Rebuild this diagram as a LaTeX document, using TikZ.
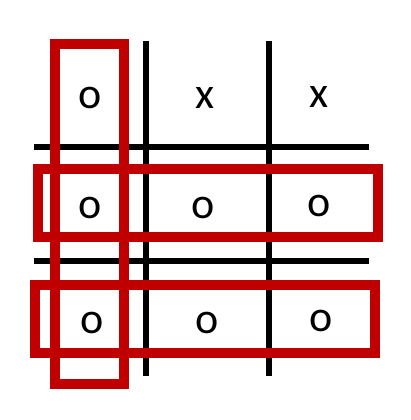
\documentclass[tikz,border=0pt]{standalone}
\usepackage{fontspec}
\setmainfont{Carlito}
\definecolor{boxred}{HTML}{C00000}
\tikzset{
	sym/.style={font=\fontsize{44}{44}\selectfont, anchor=base, inner sep=0pt},
	gridline/.style={line width=5.5pt},
	winbox/.style={line width=10pt, draw=boxred}
}

\begin{document}
\begin{tikzpicture}[x=1pt,y=-1pt]
		%%%%% START %%%%%
		\useasboundingbox (0,0) rectangle (411,420);
		
		\draw[gridline] (146,41) -- (146,376);
		\draw[gridline] (269,41) -- (269,376);
		\draw[gridline] (34,147) -- (369,147);
		\draw[gridline] (34,261) -- (369,261);
		
		\node[sym] (a1) at (90,108) {o};
		\node[sym] (a2) at (205,108) {x};
		\node[sym] (a3) at (319,107) {x};
		
		\node[sym] (b1) at (90,218) {o};
		\node[sym] (b2) at (203,218) {o};
		\node[sym] (b3) at (319,216) {o};
		
		\node[sym] (c1) at (92,333) {o};
		\node[sym] (c2) at (207,333) {o};
		\node[sym] (c3) at (321,331) {o};
		
		\draw[winbox] (55,44) rectangle (124,384);
		\draw[winbox] (38,169) rectangle (378,237);
		\draw[winbox] (35,285) rectangle (375,353);
		%%%%% END %%%%%
	\end{tikzpicture}
\end{document}
